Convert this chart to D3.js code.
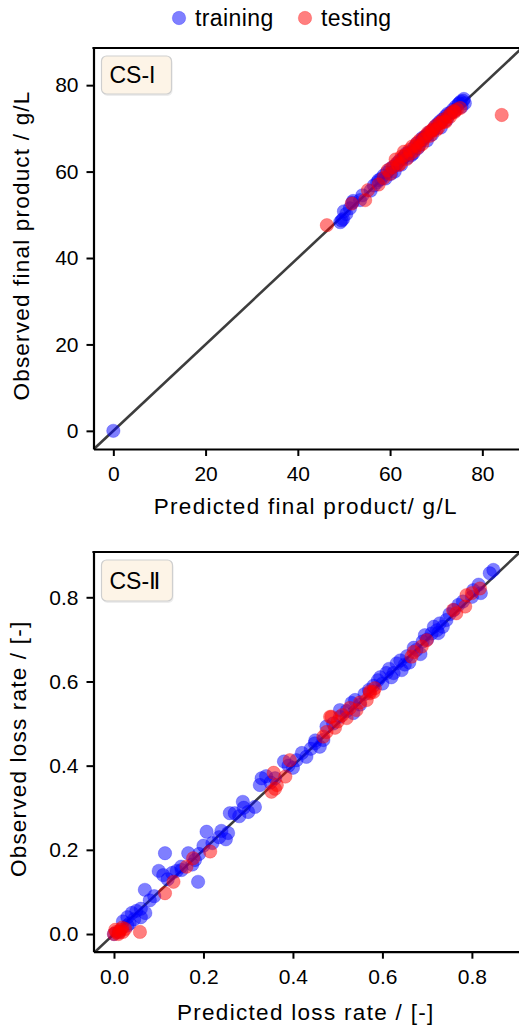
<!DOCTYPE html>
<html>
<head>
<meta charset="utf-8">
<script src="https://cdn.jsdelivr.net/npm/d3@7"></script>
<style>
  body { margin: 0; background: #fff; }
  svg { display: block; font-family: "Liberation Sans", Arial, sans-serif; }
</style>
</head>
<body>
<svg id="fig" width="519" height="1027"></svg>
<script>
// CS-I: predicted vs observed final product (g/L)
var trainTop = [[0,0],[49.2,48.3],[49.8,49],[50.5,50.2],[51.3,51.5],[52,53.2],[51.8,52.8],[53.5,53.4],
  [55.8,55.6],[56.5,56.8],[57.2,57.5],[58,58.3],[58.6,59.1],[59.3,59.8],[60,60.6],[60.2,59.5],[60.8,61.2],
  [61.5,61.8],[62,62.5],[62.4,61.6],[63,63.4],[63.5,64.2],[64.1,64.5],[64.6,63.8],[65.2,65.6],[65.8,66.5],
  [66.3,66.1],[66.9,67.3],[67.4,67.9],[68,68.5],[68.6,69.2],[69.1,68.6],[69.7,70.4],[70.3,71],[70.8,71.6],
  [71.4,72.1],[72,72.8],[72.5,73.4],[73.1,73.6],[73.6,74.3],[74.2,75],[74.8,75.6],[75.3,76.2],[75.8,76.4],
  [76.2,75.8],[75.5,75],[61,60],[65,64.2],[68,67.2],[71,70.2],[57.5,58],[59,58.4],[62.7,63],[63.8,63.2],
  [66,65.4],[67,67.8],[69.5,69.7],[72.3,72],[74,74],[75,75.8],[76,76.8],[54,54.5],[50,50.8],[49.5,48.7]];
var testTop = [[46.3,47.6],[51.7,52.6],[54.6,53.4],[55.2,55.7],[57.5,57],[58.6,58.5],[59.5,60.3],[60.5,61],
  [61.2,62.8],[61.8,61.5],[62.5,63.5],[63,64.6],[63.6,62.9],[64.2,65],[64.8,65.8],[65.3,64.8],[65.9,66.7],
  [66.5,67.3],[67,66.4],[67.6,68.2],[68.2,69],[68.7,68.3],[69.3,69.8],[69.8,70.5],[70.4,70.1],[71,71.3],
  [71.5,72],[72,71.5],[72.6,72.8],[73.2,73.5],[73.8,74],[74.5,74.4],[75.2,74.7],[84.2,73.1],[60,59.5],
  [61.5,62],[62.2,61.8],[63.3,63.8],[64.5,64.2],[65.6,66],[66.2,65.7],[67.3,67.5],[68.5,68.8],[69,69.5],
  [70,69.6],[70.7,71.2],[71.8,71.6],[73,72.7],[74,73.8]];
var ticksTop = [0, 20, 40, 60, 80];

// CS-II: predicted vs observed loss rate
var trainBottom = [[0,0],[0.01,0.005],[0.02,0.03],[0.03,0.04],[0.035,0.025],[0.04,0.05],[0.045,0.035],
  [0.05,0.055],[0.06,0.04],[0.07,0.05],[0.069,0.105],[0.08,0.08],[0.1,0.15],[0.11,0.14],[0.12,0.13],
  [0.114,0.192],[0.13,0.145],[0.151,0.152],[0.166,0.192],[0.181,0.176],[0.188,0.124],[0.175,0.165],
  [0.207,0.243],[0.22,0.216],[0.235,0.23],[0.25,0.225],[0.255,0.24],[0.259,0.287],[0.27,0.287],
  [0.288,0.314],[0.315,0.302],[0.3,0.29],[0.326,0.354],[0.33,0.37],[0.34,0.375],[0.38,0.41],[0.408,0.413],
  [0.43,0.421],[0.42,0.43],[0.449,0.453],[0.468,0.461],[0.46,0.445],[0.475,0.493],[0.505,0.516],
  [0.505,0.532],[0.531,0.549],[0.539,0.556],[0.55,0.545],[0.59,0.603],[0.6,0.595],[0.609,0.62],[0.62,0.61],
  [0.632,0.643],[0.643,0.627],[0.65,0.64],[0.676,0.675],[0.685,0.665],[0.71,0.714],[0.722,0.722],
  [0.728,0.738],[0.743,0.746],[0.735,0.73],[0.77,0.782],[0.8,0.801],[0.803,0.817],[0.84,0.857],
  [0.848,0.865],[0.56,0.57],[0.49,0.5],[0.7,0.7],[0.52,0.53],[0.535,0.525],[0.57,0.58],[0.58,0.59],
  [0.595,0.61],[0.615,0.63],[0.625,0.62],[0.64,0.65],[0.655,0.66],[0.66,0.645],[0.67,0.68],[0.69,0.695],
  [0.695,0.71],[0.715,0.73],[0.725,0.715],[0.75,0.76],[0.76,0.77],[0.78,0.79],[0.815,0.83],[0.82,0.81],
  [0.39,0.4],[0.4,0.395],[0.44,0.44],[0.45,0.46],[0.36,0.37],[0.35,0.36],[0.28,0.28],[0.29,0.3],
  [0.24,0.245],[0.2,0.21],[0.19,0.19],[0.15,0.16],[0.14,0.15],[0.09,0.09],[0.06,0.06],[0.03,0.02]];
var testBottom = [[0,0],[0.005,0.005],[0.01,0],[0.015,0.01],[0.02,0.005],[0.025,0.012],[0.058,0.005],
  [0.114,0.097],[0.133,0.124],[0.162,0.16],[0.177,0.18],[0.215,0.196],[0.352,0.338],[0.364,0.354],
  [0.357,0.383],[0.383,0.374],[0.393,0.413],[0.468,0.469],[0.486,0.516],[0.494,0.49],[0.483,0.516],
  [0.52,0.513],[0.527,0.537],[0.542,0.532],[0.565,0.556],[0.572,0.572],[0.572,0.576],[0.583,0.584],
  [0.665,0.659],[0.688,0.683],[0.699,0.698],[0.758,0.77],[0.785,0.778],[0.788,0.805],[0.818,0.821],
  [0.003,0.01],[0.012,0.004],[0.018,0.015],[0.5,0.505],[0.51,0.52],[0.55,0.55],[0.58,0.575],[0.67,0.67],
  [0.765,0.762],[0.8,0.81],[0.36,0.345],[0.475,0.48]];
var ticksBottom = [0, 0.2, 0.4, 0.6, 0.8];

var seriesNames = ["training", "testing"];
var seriesColors = ["blue", "red"];

var svg = d3.select("#fig");

function panel(opt) {
  var x = d3.scaleLinear().domain(opt.xdom).range([opt.left, opt.right]),
      y = d3.scaleLinear().domain(opt.ydom).range([opt.bottom, opt.top]);

  var clipId = "clip" + opt.id;
  svg.append("clipPath").attr("id", clipId)
    .append("rect")
      .attr("x", opt.left).attr("y", opt.top)
      .attr("width", opt.right - opt.left).attr("height", opt.bottom - opt.top);

  var g = svg.append("g");
  var plot = g.append("g").attr("clip-path", "url(#" + clipId + ")");

  // 1:1 line
  var lo = Math.min(opt.xdom[0], opt.ydom[0]), hi = Math.max(opt.xdom[1], opt.ydom[1]);
  plot.append("line")
      .attr("x1", x(lo)).attr("y1", y(lo))
      .attr("x2", x(hi)).attr("y2", y(hi))
      .attr("stroke", "#3d3d3d")
      .attr("stroke-width", 2.6);

  [opt.train, opt.test].forEach(function(pts, i) {
    plot.append("g").selectAll("circle")
      .data(pts)
      .enter().append("circle")
        .attr("cx", function(d) { return x(d[0]); })
        .attr("cy", function(d) { return y(d[1]); })
        .attr("r", 6.7)
        .attr("fill", seriesColors[i])
        .attr("fill-opacity", 0.5)
        .attr("stroke", seriesColors[i])
        .attr("stroke-opacity", 0.25)
        .attr("stroke-width", 1);
  });

  var xAxis = g.append("g")
      .attr("transform", "translate(0," + opt.bottom + ")")
      .call(d3.axisBottom(x).tickValues(opt.ticks).tickFormat(opt.fmt)
        .tickSize(7).tickSizeOuter(0).tickPadding(10));
  var yAxis = g.append("g")
      .attr("transform", "translate(" + opt.left + ",0)")
      .call(d3.axisLeft(y).tickValues(opt.ticks).tickFormat(opt.fmt)
        .tickSize(7).tickSizeOuter(0).tickPadding(8));

  [xAxis, yAxis].forEach(function(a) {
    a.select(".domain").attr("stroke", "#000").attr("stroke-width", 2.2);
    a.selectAll(".tick line").attr("stroke", "#000").attr("stroke-width", 2);
    a.selectAll(".tick text")
      .attr("fill", "#000")
      .attr("font-size", 21)
      .attr("font-family", "Liberation Sans, Arial, sans-serif");
  });

  // top spine
  g.append("line")
      .attr("x1", opt.left - 1.1).attr("x2", opt.right)
      .attr("y1", opt.top).attr("y2", opt.top)
      .attr("stroke", "#000").attr("stroke-width", 2.2);

  g.append("text")
      .attr("x", (opt.left + opt.right) / 2 - 2)
      .attr("y", opt.xlabelY)
      .attr("text-anchor", "middle")
      .attr("font-size", 22.5)
      .attr("letter-spacing", 1.3)
      .text(opt.xlabel);

  g.append("text")
      .attr("transform", "translate(" + opt.ylabelX + "," + ((opt.top + opt.bottom) / 2 - 3) + ") rotate(-90)")
      .attr("text-anchor", "middle")
      .attr("font-size", 22.5)
      .attr("letter-spacing", 1.2)
      .text(opt.ylabel);

  // case label box
  var bx = opt.left + 8, by = opt.top + 8;
  g.append("rect")
      .attr("x", bx + 1).attr("y", by + 2)
      .attr("width", opt.boxW).attr("height", opt.boxH)
      .attr("rx", 5)
      .attr("fill", "#000").attr("fill-opacity", 0.07);
  g.append("rect")
      .attr("x", bx).attr("y", by)
      .attr("width", opt.boxW).attr("height", opt.boxH)
      .attr("rx", 5)
      .attr("fill", "#fdf4e7")
      .attr("stroke", "#cfcfcf")
      .attr("stroke-width", 1.2);
  g.append("text")
      .attr("x", bx + 8)
      .attr("y", by + opt.boxH / 2)
      .attr("dy", "0.36em")
      .attr("font-size", 23)
      .text(opt.name);
}

panel({
  id: 1, name: "CS-I",
  train: trainTop, test: testTop, ticks: ticksTop, fmt: d3.format("d"),
  xdom: [-4.3, 88.6], ydom: [-4.2, 88.6],
  left: 93.5, right: 522, top: 48, bottom: 449,
  boxW: 70, boxH: 38,
  xlabel: "Predicted final product/ g/L", xlabelY: 514,
  ylabel: "Observed final product / g/L", ylabelX: 29
});

panel({
  id: 2, name: "CS-\u2161",
  train: trainBottom, test: testBottom, ticks: ticksBottom, fmt: d3.format(".1f"),
  xdom: [-0.0458, 0.912], ydom: [-0.042, 0.9076],
  left: 93.5, right: 522, top: 552, bottom: 951.7,
  boxW: 71, boxH: 41,
  xlabel: "Predicted loss rate / [-]", xlabelY: 1020,
  ylabel: "Observed loss rate / [-]", ylabelX: 26
});

// legend
var legend = svg.append("g")
  .selectAll("g")
  .data(seriesNames)
  .enter().append("g")
    .attr("transform", function(d, i) { return "translate(" + (179 + i * 126) + ",18)"; });

legend.append("circle")
    .attr("r", 6.7)
    .attr("fill", function(d, i) { return seriesColors[i]; })
    .attr("fill-opacity", 0.5)
    .attr("stroke", function(d, i) { return seriesColors[i]; })
    .attr("stroke-opacity", 0.25)
    .attr("stroke-width", 1);

legend.append("text")
    .attr("x", 16)
    .attr("dy", "0.35em")
    .attr("font-size", 23)
    .attr("letter-spacing", 0.4)
    .text(function(d) { return d; });
</script>
</body>
</html>
